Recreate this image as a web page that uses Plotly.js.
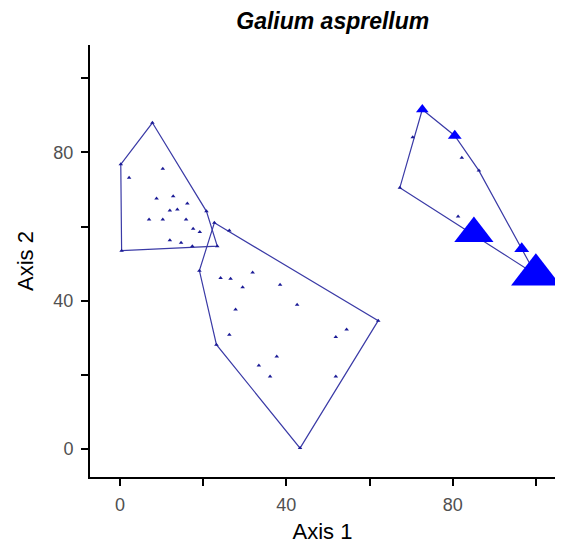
<!DOCTYPE html>
<html>
<head>
<meta charset="utf-8">
<script src="https://cdn.plot.ly/plotly-3.0.1.min.js"></script>
<style>
  html, body { margin: 0; padding: 0; background: #fff; }
  #chart { width: 564px; height: 554px; }
</style>
</head>
<body>
<div id="chart"></div>
<script>
// Ordination scores (Axis 1, Axis 2) for three groups of plots.
// Marker size reflects Galium asprellum abundance in each plot.

// Group A
const groupA_x = [0.2, 7.8, 20.8, 23.4, 0.4, 2.2, 10.3, 8.8, 12.8, 16.2, 12.0, 13.8, 7.0, 10.3, 15.9, 17.6, 19.2, 12.0, 14.7, 17.4];
const groupA_y = [76.8, 88.0, 64.1, 54.7, 53.5, 73.2, 75.6, 67.6, 68.2, 66.2, 64.3, 64.6, 61.9, 61.9, 61.9, 59.4, 58.5, 56.3, 55.6, 54.7];
const groupA_abund = [0, 0, 0, 0, 0, 0, 0, 0, 0, 0, 0, 0, 0, 0, 0, 0, 0, 0, 0, 0];
const groupA_hull = [0, 1, 2, 3, 4];

// Group B
const groupB_x = [22.7, 62.1, 43.3, 23.2, 19.1, 26.3, 24.2, 26.6, 31.9, 29.5, 38.5, 42.6, 27.8, 26.3, 54.5, 51.9, 37.7, 33.4, 36.1, 51.9];
const groupB_y = [61.0, 34.6, 0.2, 28.1, 48.1, 58.9, 46.1, 45.9, 47.6, 43.6, 44.3, 38.9, 37.6, 30.8, 32.2, 30.2, 24.9, 22.5, 19.5, 19.5];
const groupB_abund = [0, 0, 0, 0, 0, 0, 0, 0, 0, 0, 0, 0, 0, 0, 0, 0, 0, 0, 0, 0];
const groupB_hull = [0, 1, 2, 3, 4];

// Group C
const groupC_x = [72.7, 80.5, 86.3, 96.6, 100.0, 67.3, 70.4, 82.2, 81.3, 85.1];
const groupC_y = [91.6, 84.5, 75.1, 54.0, 47.0, 70.5, 84.1, 78.6, 62.7, 58.1];
const groupC_abund = [11, 12, 0, 13, 43, 0, 0, 0, 0, 34];
const groupC_hull = [0, 1, 2, 3, 4, 5];

const axisTicks = [0, 20, 40, 60, 80, 100];
const axisTickText = ['0', '', '40', '', '80', ''];

const HULL_COLOR = '#3a3aa6';
const MARK_COLOR = '#0000ff';
const DOT_COLOR = '#1a1a96';
const FONT = 'Liberation Sans, Arial, sans-serif';

function hullTrace(xs, ys, idx) {
  const order = idx.concat([idx[0]]);
  return {
    type: 'scatter', mode: 'lines',
    x: order.map(i => xs[i]), y: order.map(i => ys[i]),
    line: { color: HULL_COLOR, width: 1.2 },
    hoverinfo: 'skip', showlegend: false
  };
}

function pointTrace(xs, ys, abund) {
  return {
    type: 'scatter', mode: 'markers',
    x: xs, y: ys,
    marker: {
      symbol: 'triangle-up',
      size: abund.map(a => a > 0 ? a : 4),
      color: abund.map(a => a > 0 ? MARK_COLOR : DOT_COLOR),
      opacity: 1,
      line: { width: 0 }
    },
    showlegend: false
  };
}

const data = [
  hullTrace(groupA_x, groupA_y, groupA_hull),
  hullTrace(groupB_x, groupB_y, groupB_hull),
  hullTrace(groupC_x, groupC_y, groupC_hull),
  pointTrace(groupA_x, groupA_y, groupA_abund),
  pointTrace(groupB_x, groupB_y, groupB_abund),
  pointTrace(groupC_x, groupC_y, groupC_abund)
];

const axisCommon = {
  showgrid: false, zeroline: false,
  showline: true, linecolor: '#000', linewidth: 2,
  ticks: 'outside', ticklen: 7, tickwidth: 2, tickcolor: '#000',
  tickmode: 'array', tickvals: axisTicks, ticktext: axisTickText,
  tickfont: { family: FONT, size: 18, color: '#505050' }
};

const layout = {
  width: 564, height: 554,
  paper_bgcolor: '#fff', plot_bgcolor: '#fff',
  margin: { l: 90, r: 9, t: 45, b: 77 },
  title: {
    text: '<b><i>Galium asprellum</i></b>',
    font: { family: FONT, size: 23, color: '#000' },
    x: 0.59, xanchor: 'center', y: 0.963, yanchor: 'middle'
  },
  xaxis: Object.assign({}, axisCommon, {
    range: [-7.2, 104.6],
    ticklabelstandoff: 3,
    title: { text: 'Axis 1', standoff: 10,
      font: { family: FONT, size: 22, color: '#000' } }
  }),
  yaxis: Object.assign({}, axisCommon, {
    range: [-7.6, 109],
    ticklabelstandoff: 4,
    title: { text: 'Axis 2', standoff: 14,
      font: { family: FONT, size: 22, color: '#000' } }
  })
};

Plotly.newPlot('chart', data, layout, { displayModeBar: false, staticPlot: true });
</script>
</body>
</html>
